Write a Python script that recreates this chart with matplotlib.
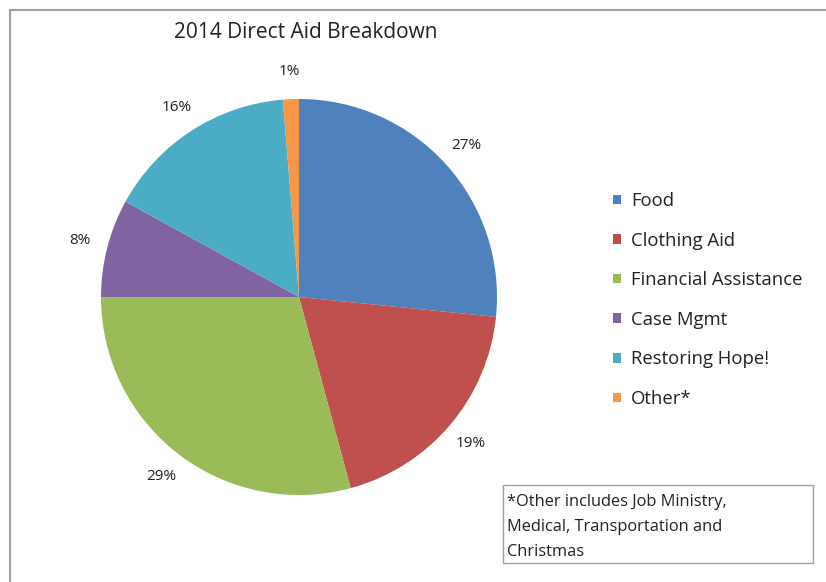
#!/usr/bin/env python3

import matplotlib
matplotlib.use("Agg")
import matplotlib.pyplot as plt
from matplotlib.patches import Rectangle

plt.rcParams['font.family'] = ['Open Sans', 'DejaVu Sans']

categories = ["Food", "Clothing Aid", "Financial Assistance", "Case Mgmt",
              "Restoring Hope!", "Other*"]
shares = [26.6, 19.2, 29.2, 8, 15.7, 1.3]
pct_labels = ["27%", "19%", "29%", "8%", "16%", "1%"]
colors = ["#4F81BD", "#C0504D", "#9BBB59", "#8064A2", "#4BACC6", "#F79646"]
note_lines = ["*Other includes Job Ministry,",
              "Medical, Transportation and",
              "Christmas"]

W, H = 826, 582
fig = plt.figure(figsize=(W / 100, H / 100), dpi=100)
ax = fig.add_axes([0, 0, 1, 1])

lab_iter = iter(pct_labels)
wedges, texts, autotexts = ax.pie(shares, colors=colors, startangle=90,
                                  counterclock=False, center=(299, H - 297),
                                  radius=198, autopct=lambda p: next(lab_iter),
                                  pctdistance=1.14,
                                  textprops={'fontsize': 11, 'color': '#222222'})
ax.set_xlim(0, W)
ax.set_ylim(0, H)
ax.axis('off')

# outer chart frame
ax.add_patch(Rectangle((10, -20), 900, H - 10 + 20, fill=False,
                       edgecolor='#a8a0a0', lw=1.5, clip_on=False))

ax.text(306, H - 33, "2014 Direct Aid Breakdown", fontsize=15,
        ha='center', va='center', color='#222222')

leg = ax.legend(wedges, categories, loc='center left',
                bbox_to_anchor=(613 / W, 1 - 300 / H), frameon=False,
                fontsize=13.3, handlelength=0.42, handleheight=0.42,
                handletextpad=0.55, labelspacing=1.17, borderpad=0,
                borderaxespad=0)
for t in leg.get_texts():
    t.set_color('#222222')

ax.add_patch(Rectangle((503, H - 563), 310, 78, fill=False,
                       edgecolor='#a8a0a0', lw=1.0))
for i, line in enumerate(note_lines):
    ax.text(507, H - 502 - 25 * i, line, fontsize=11.8, ha='left',
            va='center', color='#222222')

fig.savefig("out.png", dpi=100)
